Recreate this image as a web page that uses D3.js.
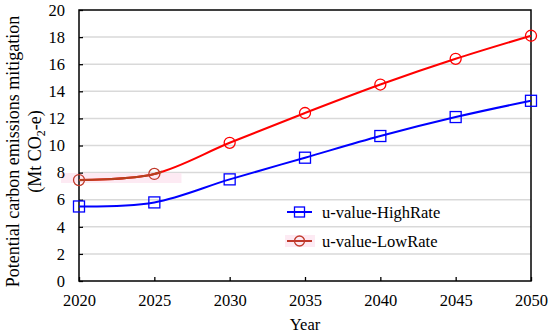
<!DOCTYPE html>
<html>
<head>
<meta charset="utf-8">
<script src="https://cdn.jsdelivr.net/npm/d3@7"></script>
<style>
  body { margin: 0; background: #fff; }
  svg { font-family: "Liberation Serif", "Times New Roman", serif; }
</style>
</head>
<body>
<svg id="chart" width="550" height="334"></svg>
<script>
var years = [2020, 2025, 2030, 2035, 2040, 2045, 2050];
var highRate = [5.5, 5.8, 7.5, 9.1, 10.7, 12.1, 13.3];
var lowRate = [7.45, 7.9, 10.2, 12.4, 14.5, 16.4, 18.1];
var yTicks = [0, 2, 4, 6, 8, 10, 12, 14, 16, 18, 20];
var seriesNames = ["u-value-HighRate", "u-value-LowRate"];

var margin = {left: 79, right: 19, top: 10, bottom: 53};
var width = 550 - margin.left - margin.right;
var height = 334 - margin.top - margin.bottom;

var svg = d3.select("#chart");
var g = svg.append("g")
    .attr("transform", "translate(" + margin.left + "," + margin.top + ")");

var x = d3.scaleLinear().domain([2020, 2050]).range([0, width]);
var y = d3.scaleLinear().domain([0, 20]).range([height, 0]);

// grid lines
g.selectAll(".grid")
    .data(yTicks.slice(1, -1))
    .enter()
    .append("line")
    .attr("x1", 3)
    .attr("x2", width)
    .attr("y1", function (d) { return y(d); })
    .attr("y2", function (d) { return y(d); })
    .attr("stroke", "#d9d9d9")
    .attr("stroke-width", 1.5);

// pinkish highlight seen around the start of LowRate line
g.append("rect")
    .attr("x", -18)
    .attr("y", y(7.6) - 5)
    .attr("width", x(2026.8) + 18)
    .attr("height", 10)
    .attr("fill", "#fdeaf3");

var xAxis = d3.axisBottom(x).tickValues(years).tickFormat(d3.format("d"))
    .tickSizeInner(-4).tickSizeOuter(0).tickPadding(13);
var yAxis = d3.axisLeft(y).tickValues(yTicks)
    .tickSizeInner(-4).tickSizeOuter(0).tickPadding(14);

var gx = g.append("g").attr("transform", "translate(0," + height + ")").call(xAxis);
var gy = g.append("g").call(yAxis);
[gx, gy].forEach(function (a) {
    a.select(".domain").remove();
    a.selectAll("line").attr("stroke", "#000").attr("stroke-width", 1.3);
    a.selectAll("text")
        .style("font-size", "16.5px")
        .style("font-family", "Liberation Serif")
        .attr("fill", "#000");
});
gx.selectAll("text").attr("dy", "0.71em");

// plot frame
g.append("rect")
    .attr("width", width)
    .attr("height", height)
    .attr("fill", "none")
    .attr("stroke", "#000")
    .attr("stroke-width", 1.5);

var line = d3.line()
    .x(function (d, i) { return x(years[i]); })
    .y(function (d) { return y(d); })
    .curve(d3.curveCatmullRom.alpha(0.5));

g.append("clipPath").attr("id", "early")
    .append("rect").attr("x", -10).attr("y", 0).attr("width", x(2025.5) + 10).attr("height", height);

g.append("path")
    .datum(lowRate)
    .attr("d", line)
    .attr("fill", "none")
    .attr("stroke", "#ff0000")
    .attr("stroke-width", 2);

g.append("path")
    .datum(lowRate)
    .attr("d", line)
    .attr("clip-path", "url(#early)")
    .attr("fill", "none")
    .attr("stroke", "#b5401e")
    .attr("stroke-width", 2.2);

g.append("path")
    .datum(highRate)
    .attr("d", line)
    .attr("fill", "none")
    .attr("stroke", "#0000ff")
    .attr("stroke-width", 2);

g.selectAll(".low-mark")
    .data(lowRate)
    .enter()
    .append("circle")
    .attr("cx", function (d, i) { return x(years[i]); })
    .attr("cy", function (d) { return y(d); })
    .attr("r", 5.5)
    .attr("fill", "none")
    .attr("stroke", function (d, i) { return i < 2 ? "#c0392b" : "#ff0000"; })
    .attr("stroke-width", 1.3);

g.selectAll(".high-mark")
    .data(highRate)
    .enter()
    .append("rect")
    .attr("x", function (d, i) { return x(years[i]) - 5.5; })
    .attr("y", function (d) { return y(d) - 5.5; })
    .attr("width", 11)
    .attr("height", 11)
    .attr("fill", "none")
    .attr("stroke", "#0000ff")
    .attr("stroke-width", 1.3);

// legend
var legend = svg.append("g").attr("transform", "translate(287,212)");
seriesNames.forEach(function (name, i) {
    var row = legend.append("g").attr("transform", "translate(0," + (i * 29) + ")");
    var col = i == 0 ? "#0000ff" : "#c0392b";
    if (i == 1) {
        row.append("rect").attr("x", -2).attr("y", -6).attr("width", 30).attr("height", 12)
            .attr("fill", "#fdeaf3");
    }
    row.append("line").attr("x1", 0).attr("x2", 25).attr("y1", 0).attr("y2", 0)
        .attr("stroke", col).attr("stroke-width", 2);
    if (i == 0) {
        row.append("rect").attr("x", 7.5).attr("y", -5).attr("width", 10).attr("height", 10)
            .attr("fill", "none").attr("stroke", col).attr("stroke-width", 1.3);
    } else {
        row.append("circle").attr("cx", 12.5).attr("cy", 0).attr("r", 5)
            .attr("fill", "none").attr("stroke", col).attr("stroke-width", 1.3);
    }
    row.append("text")
        .attr("x", 35)
        .attr("y", 0)
        .attr("dy", "0.35em")
        .style("font-size", "16.5px")
        .text(name);
});

// axis titles
svg.append("text")
    .attr("x", margin.left + width / 2)
    .attr("y", 330)
    .attr("text-anchor", "middle")
    .style("font-size", "16.5px")
    .text("Year");

var yt = svg.append("text")
    .attr("transform", "translate(19," + (margin.top + height / 2 + 6) + ") rotate(-90)")
    .attr("text-anchor", "middle")
    .style("font-size", "18px");
yt.append("tspan").attr("x", 0).attr("dy", 0).text("Potential carbon emissions mitigation");
yt.append("tspan").attr("x", 0).attr("dy", 22).text("(Mt CO");
yt.append("tspan").attr("dy", 4).style("font-size", "12px").text("2");
yt.append("tspan").attr("dy", -4).text("-e)");
</script>
</body>
</html>
